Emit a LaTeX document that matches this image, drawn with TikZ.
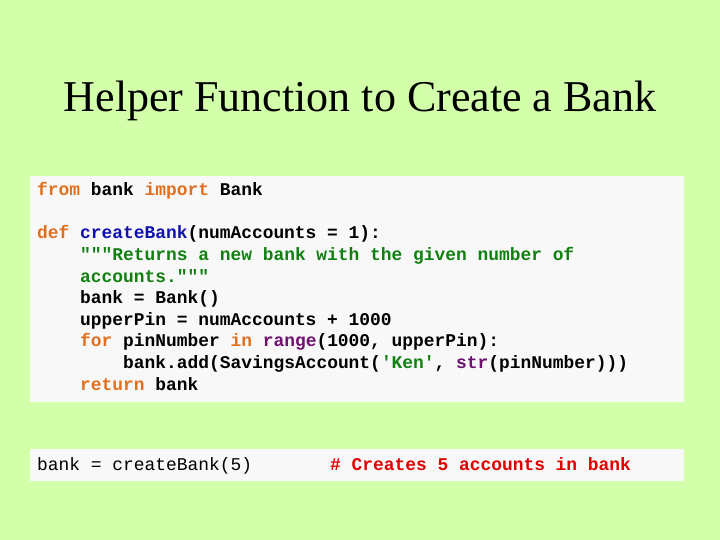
\documentclass[tikz,border=0pt]{standalone}
\usepackage{fontspec}
\setmainfont{Liberation Serif}
\setmonofont{Liberation Mono}
\definecolor{bg}{HTML}{D4FFAA}
\definecolor{boxc}{HTML}{F8F8F8}
\definecolor{kw}{HTML}{E07020}
\definecolor{fn}{HTML}{1010B0}
\definecolor{st}{HTML}{108010}
\definecolor{bi}{HTML}{701070}
\definecolor{cm}{HTML}{E00000}
\newcommand{\K}[1]{\textcolor{kw}{#1}}
\newcommand{\F}[1]{\textcolor{fn}{#1}}
\newcommand{\St}[1]{\textcolor{st}{#1}}
\newcommand{\B}[1]{\textcolor{bi}{#1}}
\begin{document}
\begin{tikzpicture}[x=1pt,y=1pt,
  code/.style={anchor=base west,inner sep=0pt,font=\fontsize{17.9}{20}\ttfamily\bfseries}]
\fill[bg] (0,0) rectangle (720,540);
\useasboundingbox (0,0) rectangle (720,540);
\node[anchor=base,inner sep=0pt,font=\fontsize{44}{50}\selectfont] (title) at (360,428) {Helper Function to Create a Bank};
\fill[boxc] (30,138) rectangle (684,364);
\fill[boxc] (30,59) rectangle (684,91);
\def\dx{43}
\node[code] (l1) at (37,344) {\K{from} bank \K{import} Bank};
\node[code] (l2) at (37,301) {\K{def} \F{createBank}(numAccounts = 1):};
\node[code] (l3) at (37+\dx,279.4) {\St{"""Returns a new bank with the given number of}};
\node[code] (l4) at (37+\dx,257.8) {\St{accounts."""}};
\node[code] (l5) at (37+\dx,236.2) {bank = Bank()};
\node[code] (l6) at (37+\dx,214.6) {upperPin = numAccounts + 1000};
\node[code] (l7) at (37+\dx,193) {\K{for} pinNumber \K{in} \B{range}(1000, upperPin):};
\node[code] (l8) at (37+2*\dx,171.4) {bank.add(SavingsAccount(\St{'Ken'}, \B{str}(pinNumber)))};
\node[code] (l9) at (37+\dx,149.8) {\K{return} bank};
\node[code,font=\fontsize{17.9}{20}\ttfamily] (m1) at (37,69) {bank = createBank(5)};
\node[code] (m2) at (330,69) {\textcolor{cm}{\# Creates 5 accounts in bank}};
\end{tikzpicture}
\end{document}
